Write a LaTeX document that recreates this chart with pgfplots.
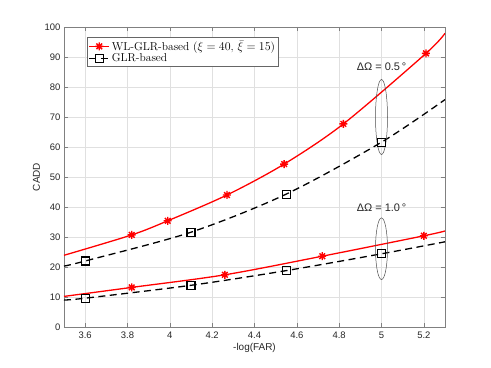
\documentclass[border=0pt]{standalone}
\usepackage{fontspec}
\usepackage{pgfplots}
\pgfplotsset{compat=1.18}
\newfontfamily\hv{Liberation Sans}
\definecolor{mred}{rgb}{1,0,0}
\definecolor{gridgray}{rgb}{0.88,0.88,0.88}
\definecolor{axgray}{rgb}{0.5,0.5,0.5}
\pgfdeclareplotmark{ast8}{%
  \pgfpathmoveto{\pgfqpoint{-\pgfplotmarksize}{0pt}}\pgfpathlineto{\pgfqpoint{\pgfplotmarksize}{0pt}}%
  \pgfpathmoveto{\pgfqpoint{0pt}{-\pgfplotmarksize}}\pgfpathlineto{\pgfqpoint{0pt}{\pgfplotmarksize}}%
  \pgfpathmoveto{\pgfqpoint{-0.707\pgfplotmarksize}{-0.707\pgfplotmarksize}}\pgfpathlineto{\pgfqpoint{0.707\pgfplotmarksize}{0.707\pgfplotmarksize}}%
  \pgfpathmoveto{\pgfqpoint{-0.707\pgfplotmarksize}{0.707\pgfplotmarksize}}\pgfpathlineto{\pgfqpoint{0.707\pgfplotmarksize}{-0.707\pgfplotmarksize}}%
  \pgfusepathqstroke}
\begin{document}
\begin{tikzpicture}
\path[use as bounding box] (-64bp,-41bp) rectangle (427bp,327bp);
\begin{axis}[
  at={(0,0)}, anchor=south west,
  scale only axis, width=381bp, height=300bp,
  xmin=3.5, xmax=5.3, ymin=0, ymax=100,
  xtick={3.6,3.8,4,4.2,4.4,4.6,4.8,5,5.2},
  ytick={0,10,...,100},
  grid=major,
  major grid style={gridgray, line width=0.5pt},
  axis line style={axgray, line width=0.6pt},
  tick style={axgray, line width=0.5pt},
  major tick length=4bp,
  tick align=inside,
  /pgf/number format/assume math mode=true,
  ticklabel style={font=\hv\fontsize{9.5}{11}\selectfont, text=black!85},
  xticklabel style={yshift=-1bp},
  xlabel={\hv -log(FAR)},
  ylabel={\hv CADD},
  label style={font=\hv\fontsize{10}{12}\selectfont, text=black!85},
  xlabel style={yshift=2bp},
  ylabel style={yshift=-2bp},
  legend style={at={(0.06,0.967)}, anchor=north west, draw=black!60, line width=0.5pt,
    font=\fontsize{11.5}{13}\selectfont, inner sep=1.5bp, row sep=-2.5bp},
  legend cell align=left,
  legend image code/.code={%
    \draw[#1, mark indices={2}] plot coordinates {(0bp,0bp) (10bp,0bp) (20bp,0bp)};},
]
% upper red
\addplot[mred, line width=1.3pt, smooth, mark=ast8, mark size=4bp, mark indices={2,3,4,5,6,7},
  mark options={line width=1.4pt}]
  coordinates {(3.5,23.9) (3.82,30.7) (3.99,35.4) (4.27,44.0) (4.54,54.3) (4.82,67.7) (5.21,91.2) (5.3,97.9)};
\addlegendentry{WL-GLR-based ($\xi=40$, $\bar{\xi}=15$)}
% upper black
\addplot[black, line width=1.3pt, dash pattern=on 7bp off 4.5bp, smooth, mark=square, mark size=4bp,
  mark indices={2,3,4,5}, mark options={solid, line width=1.2pt}]
  coordinates {(3.5,20.3) (3.6,22.0) (4.1,31.6) (4.55,44.3) (5.0,61.6) (5.3,75.8)};
\addlegendentry{GLR-based}
% lower red
\addplot[mred, line width=1.3pt, smooth, mark=ast8, mark size=4bp, mark indices={2,3,4,5},
  mark options={line width=1.4pt}, forget plot]
  coordinates {(3.5,10.2) (3.82,13.2) (4.26,17.4) (4.72,23.6) (5.2,30.4) (5.3,32.0)};
% lower black
\addplot[black, line width=1.3pt, dash pattern=on 7bp off 4.5bp, smooth, mark=square, mark size=4bp,
  mark indices={2,3,4,5}, mark options={solid, line width=1.2pt}, forget plot]
  coordinates {(3.5,9.0) (3.6,9.6) (4.1,13.9) (4.55,18.8) (5.0,24.4) (5.3,28.4)};
% ellipses and labels
\draw[black!70, line width=0.5pt] (axis cs:5.0,70) ellipse [x radius=6bp, y radius=37.5bp];
\draw[black!70, line width=0.5pt] (axis cs:5.0,26.1) ellipse [x radius=6bp, y radius=30.8bp];
\node[font=\hv\fontsize{11}{12}\selectfont, text=black!85] at (axis cs:5.0,86.8) {ΔΩ = 0.5\,°};
\node[font=\hv\fontsize{11}{12}\selectfont, text=black!85] at (axis cs:5.0,39.8) {ΔΩ = 1.0\,°};
\end{axis}
\end{tikzpicture}
\end{document}
